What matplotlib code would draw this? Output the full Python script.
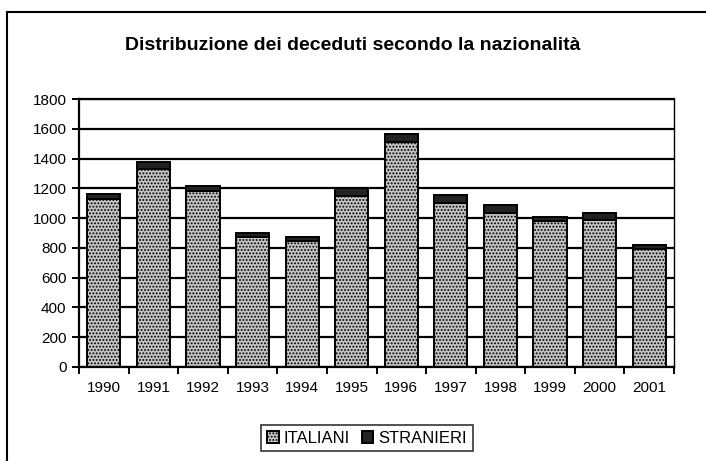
import numpy as np
import matplotlib.pyplot as plt
from matplotlib.patches import Rectangle

anni = ['1990', '1991', '1992', '1993', '1994', '1995', '1996', '1997', '1998', '1999', '2000', '2001']
italiani = [1130, 1330, 1185, 873, 847, 1148, 1510, 1100, 1035, 980, 985, 790]
stranieri = [30, 45, 28, 28, 27, 52, 57, 57, 50, 29, 50, 32]
y_ticks = [0, 200, 400, 600, 800, 1000, 1200, 1400, 1600, 1800]

plt.rcParams['font.family'] = ['Liberation Sans', 'DejaVu Sans']
plt.rcParams['hatch.color'] = '#505050'
plt.rcParams['hatch.linewidth'] = 0.9

fig = plt.figure(figsize=(7.06, 4.61), dpi=100)
ax = fig.add_axes([79 / 706, 1 - 367 / 461, (674 - 79) / 706, (367 - 99) / 461])

x = np.arange(len(anni))
ax.set_axisbelow(True)
ax.yaxis.grid(True, color='black', linewidth=1.6)
ax.bar(x, italiani, width=0.67, color='#c4c4c4', edgecolor='black', linewidth=1.4,
       hatch='.....', label='ITALIANI')
ax.bar(x, stranieri, width=0.67, bottom=italiani, color='#222222', edgecolor='black',
       linewidth=1.4, label='STRANIERI')

ax.set_xlim(-0.5, len(anni) - 0.5)
ax.set_ylim(0, 1800)
ax.set_yticks(y_ticks)
ax.set_yticklabels([str(v) for v in y_ticks], fontsize=11)
ax.set_xticks(x)
ax.set_xticklabels(anni, fontsize=11)
ax.set_xticks(np.arange(len(anni) + 1) - 0.5, minor=True)
ax.tick_params(axis='x', which='major', length=0, pad=10)
ax.tick_params(axis='x', which='minor', length=5, width=1.4, direction='out')
ax.tick_params(axis='y', length=5, width=1.4, direction='out', pad=4)
for s in ['left', 'bottom', 'top']:
    ax.spines[s].set_linewidth(1.6)
ax.spines['right'].set_linewidth(1.0)

fig.text(0.5, 1 - 45 / 461, 'Distribuzione dei deceduti secondo la nazionalità',
         ha='center', va='center', fontsize=14, fontweight='bold')

leg = fig.legend(loc='center', bbox_to_anchor=(367 / 706, 1 - 438 / 461), ncol=2,
                 frameon=True, fancybox=False, edgecolor='black', fontsize=12,
                 handlelength=0.7, handleheight=0.7, handletextpad=0.3,
                 columnspacing=0.7, borderpad=0.35)
leg.get_frame().set_linewidth(1.2)

# cornice esterna del grafico
fig.patches.append(Rectangle((7 / 706, -0.01), 1.0, 1 - 12 / 461 + 0.01,
                             transform=fig.transFigure, fill=False,
                             edgecolor='black', linewidth=1.5))

fig.savefig('out.png', dpi=100)
